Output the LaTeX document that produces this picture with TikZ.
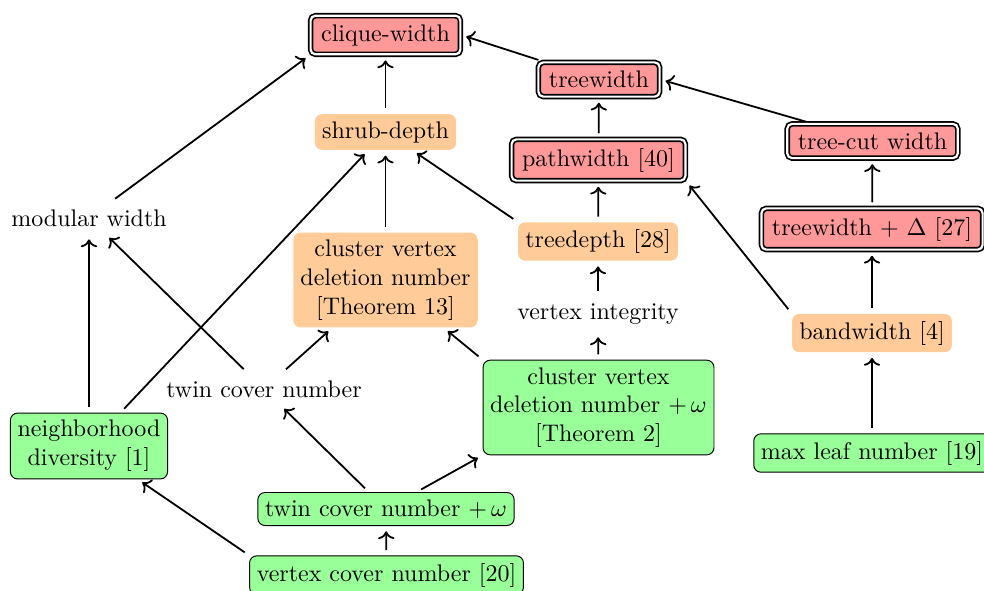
\documentclass[tikz,border=0pt]{standalone}
\usetikzlibrary{arrows.meta}
\begin{document}
\begin{tikzpicture}[x=0.41667pt,y=-0.41667pt,
  redbox/.style={draw, double, line width=0.7pt, double distance=0.9pt, fill=red!40, rounded corners=2pt, inner xsep=4.4pt, inner ysep=3.6pt},
  orangebox/.style={fill=orange!40, rounded corners=3pt, inner sep=3pt, align=center},
  greenbox/.style={draw, line width=0.4pt, fill=green!40, rounded corners=3pt, inner sep=3pt, align=center},
  plain/.style={inner sep=3pt, align=center},
  arr/.style={->, line width=0.75pt, shorten >=2.2pt, shorten <=2.2pt}]
\useasboundingbox (0,0) rectangle (984,590);
% nodes
\node[redbox] (cw) at (385.5,35) {clique-width};
\node[redbox] (tw) at (599,79.5) {treewidth};
\node[redbox] (tcut) at (872.5,141) {tree-cut width};
\node[redbox] (pw) at (598.5,160) {pathwidth [40]};
\node[redbox] (twd) at (872,229) {treewidth + $\Delta$ [27]};
\node[orangebox] (shrub) at (385.5,132) {shrub-depth};
\node[plain] (mw) at (89,218) {modular width};
\node[orangebox] (cvd) at (385.5,280) {cluster vertex\\deletion number\\{[Theorem 13]}};
\node[orangebox] (td) at (598,241.5) {treedepth [28]};
\node[plain] (vi) at (598,314) {vertex integrity};
\node[orangebox] (bw) at (872,333) {bandwidth [4]};
\node[plain] (tc) at (264,389) {twin cover number};
\node[greenbox] (nd) at (89,446) {neighborhood\\diversity [1]};
\node[greenbox] (cvdw) at (598.5,407.5) {cluster vertex\\deletion number $+\,\omega$\\{[Theorem 2]}};
\node[greenbox] (tcw) at (386,509) {twin cover number $+\,\omega$};
\node[greenbox] (vc) at (386.5,575) {vertex cover number [20]};
\node[greenbox] (ml) at (872,453) {max leaf number [19]};
% edges
\draw[arr] (shrub) -- (cw);
\draw[arr] (mw) -- (cw.south west);
\draw[arr] (tw) -- (cw.east);
\draw[arr] (pw) -- (tw);
\draw[arr] (tcut) -- (tw.east);
\draw[arr] (twd) -- (tcut);
\draw[arr] (td) -- (pw);
\draw[arr] (bw.north west) -- (pw.south east);
\draw[arr] (bw) -- (twd);
\draw[arr] (ml) -- (bw);
\draw[arr] (cvd) -- (shrub);
\draw[arr] (td.north west) -- (shrub);
\draw[arr] (nd) -- (shrub);
\draw[arr] (nd) -- (mw);
\draw[arr] (tc) -- (mw);
\draw[arr] (tc) -- (cvd);
\draw[arr] (vi) -- (td);
\draw[arr] (cvdw) -- (vi);
\draw[arr] (cvdw.north west) -- (cvd);
\draw[arr] (tcw) -- (tc);
\draw[arr] (tcw) -- (cvdw.south west);
\draw[arr] (vc) -- (tcw);
\draw[arr] (vc.north west) -- (nd);
\end{tikzpicture}
\end{document}
